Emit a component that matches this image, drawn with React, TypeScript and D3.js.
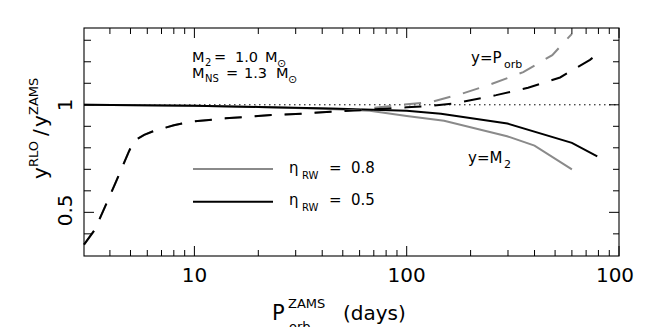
import * as d3 from "d3";

// P_orb^ZAMS (days) vs y^RLO / y^ZAMS
const porbEta05: [number, number][] = [
  [3.02, 0.35], [3.4, 0.42], [4.2, 0.625], [4.9, 0.78], [5.2, 0.833], [5.8, 0.86],
  [6.4, 0.877], [8, 0.905], [9.6, 0.921], [14, 0.937], [23, 0.952], [30, 0.957],
  [40, 0.965], [60, 0.975], [100, 0.988], [130, 0.995], [165, 1.005], [183, 1.014],
  [264, 1.045], [373, 1.079], [528, 1.127], [730, 1.209], [790, 1.235],
];
const porbEta08: [number, number][] = [
  [3.02, 0.35], [3.4, 0.42], [4.2, 0.625], [4.9, 0.78], [5.2, 0.833], [5.8, 0.86],
  [6.4, 0.877], [8, 0.905], [9.6, 0.921], [14, 0.937], [23, 0.952], [30, 0.957],
  [40, 0.965], [60, 0.978], [90, 0.998], [130, 1.013], [180, 1.05], [250, 1.096],
  [354, 1.152], [485, 1.231], [600, 1.33],
];
const m2Eta05: [number, number][] = [
  [3.02, 1.0], [10, 0.996], [20, 0.99], [44, 0.983], [100, 0.972], [145, 0.958],
  [298, 0.913], [600, 0.823], [790, 0.76],
];
const m2Eta08: [number, number][] = [
  [3.02, 1.0], [10, 0.995], [20, 0.99], [40, 0.982], [67, 0.972], [100, 0.948],
  [150, 0.926], [297, 0.854], [400, 0.81], [600, 0.7],
];

const xMajor = [10, 100, 1000];
const xMajorLabels = ["10", "100", "100"];
const xMinor = [4, 5, 6, 7, 8, 9, 20, 30, 40, 50, 60, 70, 80, 90, 200, 300, 400, 500, 600, 700, 800, 900];
const yMajor = [0.5, 1.0];
const yMajorLabels = ["0.5", "1"];
const yMinor = [0.4, 0.6, 0.7, 0.8, 0.9, 1.1, 1.2, 1.3];

const width = 660;
const height = 327;
const left = 84, right = 619, top = 28, bottom = 256;
const gray = "#8a8a8a";
const font = "DejaVu Sans, sans-serif";

export default function App() {
  const x = d3.scaleLog().domain([3.02, 1000]).range([left, right]);
  const y = d3.scaleLinear().domain([0.297, 1.357]).range([bottom, top]);
  const line = d3.line<[number, number]>().x(d => x(d[0])).y(d => y(d[1]));

  return (
    <svg width={width} height={height} style={{ position: "absolute", left: 0, top: 0, background: "#fff" }}
      fontFamily={font}>
      <rect x={0} y={0} width={width} height={height} fill="#fff" />

      {/* dotted reference at 1 */}
      <line x1={left} x2={right} y1={y(1)} y2={y(1)} stroke="#000" strokeWidth={1} strokeDasharray="1.5,3.5" />

      {/* curves */}
      <path d={line(m2Eta08)!} fill="none" stroke={gray} strokeWidth={2} />
      <path d={line(m2Eta05)!} fill="none" stroke="#000" strokeWidth={2} />
      <path d={line(porbEta08)!} fill="none" stroke={gray} strokeWidth={2} strokeDasharray="17,13" />
      <path d={line(porbEta05)!} fill="none" stroke="#000" strokeWidth={2} strokeDasharray="17,13" />

      {/* frame */}
      <rect x={left} y={top} width={right - left} height={bottom - top} fill="none" stroke="#000" strokeWidth={1.1} />

      {/* x ticks (bottom + top) */}
      {xMajor.map(v => (
        <g key={"xM" + v}>
          <line x1={x(v)} x2={x(v)} y1={bottom} y2={bottom - 10} stroke="#000" />
          <line x1={x(v)} x2={x(v)} y1={top} y2={top + 10} stroke="#000" />
        </g>
      ))}
      {xMinor.map(v => (
        <g key={"xm" + v}>
          <line x1={x(v)} x2={x(v)} y1={bottom} y2={bottom - 6} stroke="#000" />
          <line x1={x(v)} x2={x(v)} y1={top} y2={top + 6} stroke="#000" />
        </g>
      ))}
      {xMajor.map((v, i) => (
        <text key={"xl" + v} x={x(v) - (v === 1000 ? 4 : 0)} y={282} fontSize={20} textAnchor="middle">{xMajorLabels[i]}</text>
      ))}

      {/* y ticks (left + right) */}
      {yMajor.map(v => (
        <g key={"yM" + v}>
          <line x1={left} x2={left + 10} y1={y(v)} y2={y(v)} stroke="#000" />
          <line x1={right} x2={right - 10} y1={y(v)} y2={y(v)} stroke="#000" />
        </g>
      ))}
      {yMinor.map(v => (
        <g key={"ym" + v}>
          <line x1={left} x2={left + 7} y1={y(v)} y2={y(v)} stroke="#000" />
          <line x1={right} x2={right - 6} y1={y(v)} y2={y(v)} stroke="#000" />
        </g>
      ))}
      {yMajor.map((v, i) => (
        <text key={"yl" + v} transform={`translate(72,${y(v) - (v === 0.5 ? 2 : 0)}) rotate(-90)`} fontSize={20}
          textAnchor="middle">{yMajorLabels[i]}</text>
      ))}

      {/* y title */}
      <g transform={`translate(47,133) rotate(-90)`}>
        <text x={-46} y={0} fontSize={20}>y</text>
        <text x={-34} y={-9} fontSize={13}>RLO</text>
        <text x={-3} y={0} fontSize={20}>/</text>
        <text x={6} y={0} fontSize={20}>y</text>
        <text x={18} y={-9} fontSize={13}>ZAMS</text>
      </g>

      {/* x title */}
      <text x={272} y={320} fontSize={21}>P</text>
      <text x={288} y={308} fontSize={13}>ZAMS</text>
      <text x={289} y={331} fontSize={13}>orb</text>
      <text x={343} y={320} fontSize={20}>(days)</text>

      {/* mass annotation */}
      <g fontSize={14.5}>
        <text x={192} y={62}>M</text>
        <text x={205} y={66} fontSize={10}>2</text>
        <text x={214} y={62}>=</text>
        <text x={235} y={62}>1.0</text>
        <text x={265} y={62}>M</text>
        <text x={277} y={67} fontSize={11}>⊙</text>

        <text x={192} y={78}>M</text>
        <text x={205} y={82} fontSize={10}>NS</text>
        <text x={226} y={78}>=</text>
        <text x={244} y={78}>1.3</text>
        <text x={276} y={78}>M</text>
        <text x={288} y={83} fontSize={11}>⊙</text>
      </g>

      {/* curve labels */}
      <g fontSize={15}>
        <text x={471} y={63}>y=P</text>
        <text x={504} y={68} fontSize={11}>orb</text>
        <text x={468} y={163}>y=M</text>
        <text x={504} y={168} fontSize={11}>2</text>
      </g>

      {/* legend */}
      <line x1={193} x2={273} y1={169} y2={169} stroke={gray} strokeWidth={2} />
      <line x1={193} x2={273} y1={201.7} y2={201.7} stroke="#000" strokeWidth={2} />
      <g fontSize={15}>
        <text x={289} y={173}>η</text>
        <text x={302} y={179} fontSize={10}>RW</text>
        <text x={329} y={173}>=</text>
        <text x={351} y={173}>0.8</text>
        <text x={289} y={205}>η</text>
        <text x={302} y={211} fontSize={10}>RW</text>
        <text x={329} y={205}>=</text>
        <text x={351} y={205}>0.5</text>
      </g>
    </svg>
  );
}
